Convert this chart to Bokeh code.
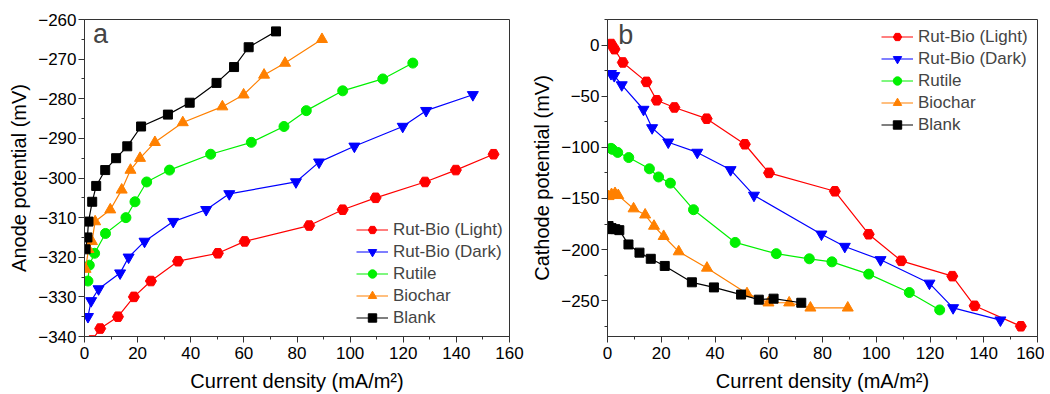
from bokeh.plotting import figure
from bokeh.layouts import row
from bokeh.models import SingleIntervalTicker, CustomJSTickFormatter, Label, Legend, LegendItem, Range1d
from bokeh.embed import file_html
from bokeh.resources import INLINE

# ---------------- data ----------------
series_names = ["Rut-Bio (Light)", "Rut-Bio (Dark)", "Rutile", "Biochar", "Blank"]

light_x_a = [2.8, 5.9, 12.6, 18.6, 25.0, 35.2, 50.2, 60.3, 84.6, 97.2, 109.6, 128.2, 139.8, 154.0]
light_y_a = [-341, -338, -335, -330, -326, -321, -319, -316, -312, -308, -305, -301, -298, -294]
light_x_b = [1.4, 2.6, 5.7, 14.5, 18.3, 24.9, 36.9, 51.1, 60.1, 84.6, 97.2, 109.3, 128.3, 136.6, 153.8]
light_y_b = [1, -4, -17, -36, -54, -61, -72, -97, -125, -143, -185, -211, -226, -255, -275]

dark_x = [1.3, 2.5, 5.3, 13.4, 16.6, 22.6, 33.4, 45.8, 54.5, 79.6, 88.3, 101.6, 119.8, 128.6, 146.2]
dark_y_a = [-335, -331, -328, -324, -320, -316, -311, -308, -304, -301, -296, -292, -287, -283, -279]
dark_y_b = [-28, -30, -39, -63, -81, -95, -105, -122, -147, -185, -197, -210, -233, -257, -269]

rutile_x = [1.3, 1.8, 3.8, 7.9, 15.6, 19.0, 23.4, 32.0, 47.5, 62.8, 75.1, 83.5, 97.2, 112.3, 123.6]
rutile_y_a = [-326, -322, -319, -314, -310, -306, -301, -298, -294, -291, -287, -283, -278, -275, -271]
rutile_y_b = [-101, -102, -105, -110, -121, -129, -135, -161, -193, -204, -209, -212, -224, -242, -259]

biochar_x = [0.4, 1.5, 2.8, 4.0, 9.7, 14.0, 17.3, 20.9, 26.5, 37.0, 51.9, 59.9, 67.6, 75.5, 89.4]
biochar_y_a = [-323, -318, -316, -311, -308, -303, -298, -295, -291, -286, -282, -279, -274, -271, -265]
biochar_y_b = [-148, -146, -145, -147, -160, -166, -177, -187, -202, -218, -243, -252, -252, -257, -257]

blank_x = [0.4, 1.1, 1.5, 2.9, 4.4, 7.8, 11.9, 16.1, 21.3, 31.4, 39.6, 49.7, 56.3, 61.8, 72.1]
blank_y_a = [-318, -315, -311, -306, -302, -298, -295, -292, -287, -284, -281, -276, -272, -267, -263]
blank_y_b = [-177, -180, -179, -180, -181, -195, -203, -209, -216, -232, -237, -244, -249, -248, -252]

x_label = "Current density (mA/m²)"
y_label_a = "Anode potential (mV)"
y_label_b = "Cathode potential (mV)"

colors = ["#FF0000", "#0000FF", "#00F000", "#FF8000", "#000000"]
markers = ["hex", "inverted_triangle", "circle", "triangle", "square"]
sizes = [11, 11, 10, 11, 9]

FONT = "Liberation Sans"
minus_fmt = "return tick < 0 ? '\u2212' + Math.abs(tick) : String(tick);"


def make_panel(series, yr, y_int, ylabel, letter, letter_pos, legend_loc, border_left, border_right, fw):
    p = figure(frame_width=fw, frame_height=317,
               x_range=Range1d(0, 160), y_range=Range1d(*yr),
               output_backend="svg", toolbar_location=None,
               min_border_left=border_left, min_border_right=border_right,
               min_border_top=19, min_border_bottom=52)
    p.background_fill_color = "white"
    p.xgrid.visible = False
    p.ygrid.visible = False
    p.outline_line_color = "#333333"
    p.outline_line_width = 1

    p.xaxis.ticker = SingleIntervalTicker(interval=20, num_minor_ticks=2)
    p.yaxis.ticker = SingleIntervalTicker(interval=y_int, num_minor_ticks=2)
    p.yaxis.formatter = CustomJSTickFormatter(code=minus_fmt)
    for ax in (p.xaxis[0], p.yaxis[0]):
        ax.axis_line_color = "#333333"
        ax.major_tick_line_color = "#333333"
        ax.minor_tick_line_color = "#333333"
        ax.major_tick_out = 6
        ax.major_tick_in = 0
        ax.minor_tick_out = 3
        ax.minor_tick_in = 0
        ax.major_label_text_font = FONT
        ax.major_label_text_font_size = "17px"
        ax.major_label_text_color = "#000000"
        ax.axis_label_text_font = FONT
        ax.axis_label_text_font_size = "20px"
        ax.axis_label_text_font_style = "normal"
        ax.axis_label_text_color = "#000000"
    p.xaxis.axis_label = x_label
    p.yaxis.axis_label = ylabel
    p.xaxis.major_label_standoff = 4
    p.yaxis.major_label_standoff = 2
    p.xaxis.axis_label_standoff = 8
    p.yaxis.axis_label_standoff = 5

    items = []
    for (xs, ys), name, c, m, s in zip(series, series_names, colors, markers, sizes):
        r1 = p.line(xs, ys, line_color=c, line_width=1.2)
        r2 = p.scatter(xs, ys, marker=m, size=s, fill_color=c, line_color=c)
        items.append(LegendItem(label=name, renderers=[r1, r2]))

    leg = Legend(items=items, location=legend_loc,
                 label_text_font=FONT, label_text_font_size="17px",
                 glyph_width=32, glyph_height=21, label_height=21, spacing=1,
                 label_standoff=5, padding=5, margin=0,
                 border_line_color=None, background_fill_alpha=0)
    p.add_layout(leg, "center")

    p.add_layout(Label(x=letter_pos[0], y=letter_pos[1], text=letter,
                       text_font=FONT, text_font_size="27px",
                       text_baseline="alphabetic", text_align="left"))
    return p


series_a = [(light_x_a, light_y_a), (dark_x, dark_y_a), (rutile_x, rutile_y_a),
            (biochar_x, biochar_y_a), (blank_x, blank_y_a)]
series_b = [(light_x_b, light_y_b), (dark_x, dark_y_b), (rutile_x, rutile_y_b),
            (biochar_x, biochar_y_b), (blank_x, blank_y_b)]

p1 = make_panel(series_a, (-340, -260), 10, y_label_a, "a", (3.2, -263.6), (272, 8), 84, 19, 425)
p2 = make_panel(series_b, (-285, 25), 50, y_label_b, "b", (4.0, 9.5), (274, 201), 76, 7, 430)

layout = row(p1, p2)
open("out.html", "w").write(file_html(layout, INLINE))
